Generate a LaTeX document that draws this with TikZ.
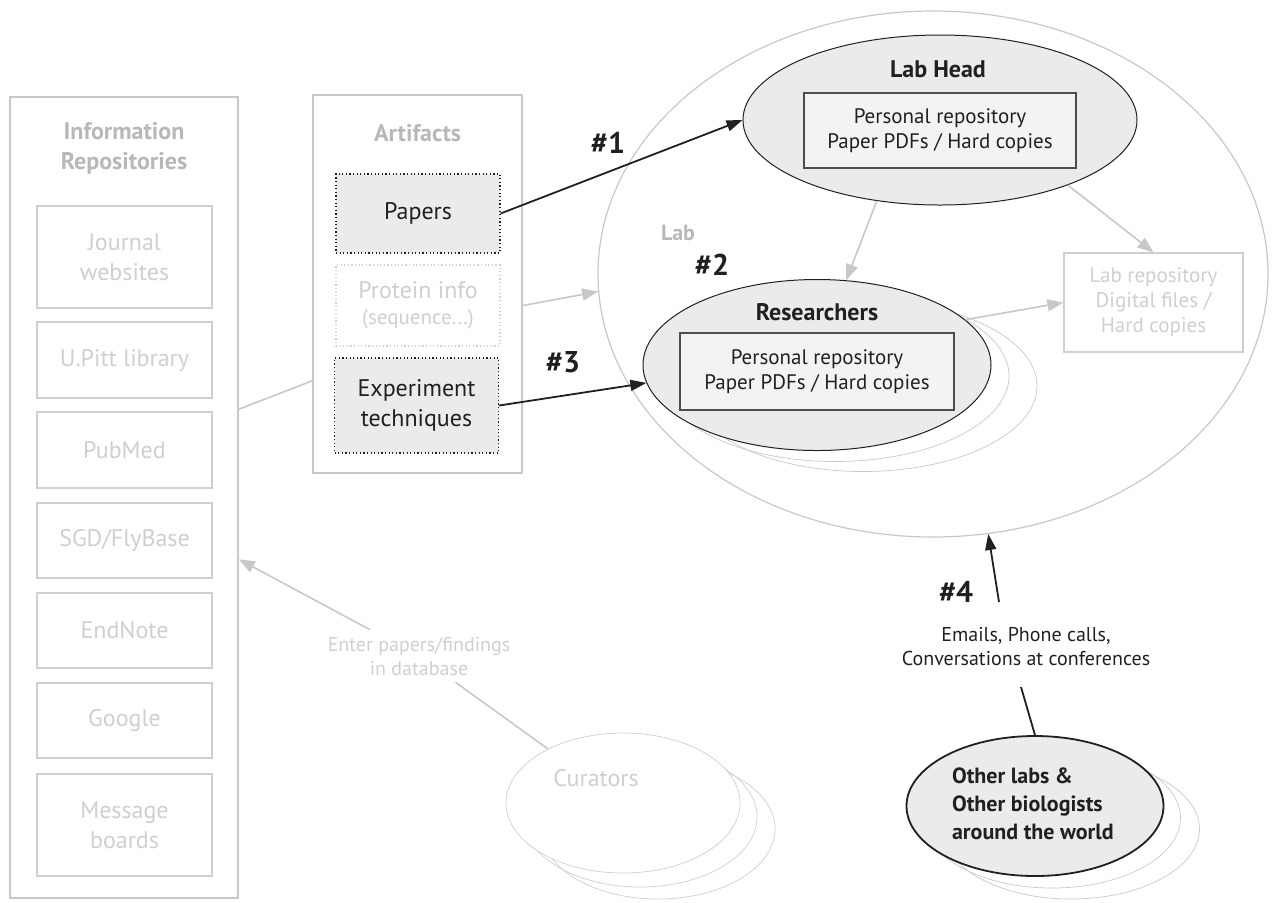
\documentclass[tikz,border=0pt]{standalone}
\usepackage{fontspec}
\setmainfont{PT Sans}
\usepackage{tikz}
\usetikzlibrary{arrows.meta,shapes.geometric,calc}

\definecolor{ink}{HTML}{231F20}
\definecolor{rule}{HTML}{C8C8C8}
\definecolor{faint}{HTML}{CFCFCF}
\definecolor{titlegray}{HTML}{B8B8B8}
\definecolor{shade}{HTML}{EBEBED}
\definecolor{paleshade}{HTML}{F3F3F5}

\begin{document}
\begin{tikzpicture}[x=0.5pt, y=-0.5pt, >={Triangle[length=8pt,width=5.5pt]}]
        \tikzset{panel/.style={draw=rule, line width=0.8pt, inner sep=0pt},
                 paneltitle/.style={text=titlegray, align=center, font=\bfseries\fontsize{12}{15}\selectfont},
                 repo/.style={draw=faint, line width=0.6pt, inner sep=0pt, minimum width=87.5pt, align=center, text=faint, font=\fontsize{12}{15}\selectfont},
                 artifact/.style={draw=ink, dash pattern=on 0.6pt off 1.2pt, line width=0.6pt, fill=shade, inner sep=0pt, minimum width=82pt, align=center, text=ink, font=\fontsize{12}{15}\selectfont},
                 member/.style={draw=ink, ellipse, line width=0.5pt, fill=shade, inner sep=0pt},
                 membertitle/.style={text=ink, font=\bfseries\fontsize{12}{14}\selectfont},
                 personal/.style={draw=ink!80, line width=0.6pt, fill=paleshade, inner sep=0pt, align=center, text=ink, font=\fontsize{10.5}{12.5}\selectfont},
                 copyring/.style={draw=rule, ellipse, line width=0.35pt, inner sep=0pt},
                 tag/.style={text=ink, font=\bfseries\fontsize{15}{18}\selectfont},
                 gline/.style={draw=rule, line width=0.8pt},
                 garrow/.style={gline, -{Triangle[length=8pt,width=6pt]}},
                 kline/.style={draw=ink, line width=0.9pt},
                 karrow/.style={kline, ->}}

        \useasboundingbox (0,0) rectangle (1274,902);

        \node[panel, minimum width=114pt, minimum height=400.5pt] (info) at (124,497.5) {};
        \node[paneltitle] (infotitle) at (124,148) {Information\\Repositories};
        \node[repo, minimum height=51pt] (journal) at (124.5,257) {Journal\\websites};
        \node[repo, minimum height=38pt] (upitt) at (124.5,360) {U.Pitt library};
        \node[repo, minimum height=38pt] (pubmed) at (124.5,450) {PubMed};
        \node[repo, minimum height=37.5pt] (sgd) at (124.5,540.5) {SGD/FlyBase};
        \node[repo, minimum height=37.5pt] (endnote) at (124.5,630.5) {EndNote};
        \node[repo, minimum height=37.5pt] (google) at (124.5,720.5) {Google};
        \node[repo, minimum height=51pt] (boards) at (124.5,825) {Message\\boards};

        \node[panel, minimum width=104.5pt, minimum height=189pt] (art) at (417.5,284) {};
        \node[paneltitle] (arttitle) at (417.5,133) {Artifacts};
        \node[artifact, minimum height=39.5pt] (papers) at (418,213.5) {Papers};
        \node[artifact, draw=faint, fill=none, text=faint, minimum height=40.5pt] (protein) at (418,305.5)
            {Protein info\\[-2pt]{\fontsize{10.5}{12}\selectfont(sequence...)}};
        \node[artifact, minimum height=47.5pt] (exper) at (416.5,405.5) {Experiment\\techniques};

        \node[copyring, minimum width=335pt, minimum height=263pt, line width=0.6pt] (lab) at (933,274) {};
        \node[paneltitle, font=\bfseries\fontsize{11}{13}\selectfont] (lablabel) at (678,233) {Lab};

        \node[member, minimum width=197pt, minimum height=85pt] (head) at (940,120) {};
        \node[membertitle] (headtitle) at (938,69) {Lab Head};
        \node[personal, minimum width=136pt, minimum height=37.5pt] (headrepo) at (940,130.5)
            {Personal repository\\Paper PDFs / Hard copies};

        \foreach \dx/\dy/\i in {46/21/2,18/11/1}
            \node[copyring, minimum width=174pt, minimum height=85.5pt] (rescopy\i) at (817+\dx,365+\dy) {};
        \node[member, minimum width=174pt, minimum height=85.5pt] (res) at (817,365) {};
        \node[membertitle] (restitle) at (817,312) {Researchers};
        \node[personal, minimum width=137pt, minimum height=38.5pt] (resrepo) at (817,371.5)
            {Personal repository\\Paper PDFs / Hard copies};

        \node[repo, minimum width=89.5pt, minimum height=49.5pt, font=\fontsize{10.5}{12.5}\selectfont] (labrepo) at (1153.5,302.5)
            {Lab repository\\Digital files /\\Hard copies};

        \foreach \dx/\dy/\i in {36/23/2,17/12/1}
            \node[copyring, minimum width=128.5pt, minimum height=70pt] (othercopy\i) at (1035+\dx,806+\dy) {};
        \node[member, line width=0.9pt, minimum width=128.5pt, minimum height=70pt] (others) at (1035,806) {};
        \node[anchor=west, align=left, text=ink, font=\bfseries\fontsize{11}{14}\selectfont] (otherstext) at (945,804)
            {Other labs \&\\Other biologists\\around the world};

        \foreach \dx/\dy/\i in {35/26/2,17/14/1}
            \node[copyring, draw=faint, minimum width=117pt, minimum height=70pt] (curcopy\i) at (623+\dx,803+\dy) {};
        \node[copyring, draw=faint, fill=white, minimum width=117pt, minimum height=70pt] (cur) at (623,803) {};
        \node[text=faint, font=\fontsize{12}{14}\selectfont] (curtext) at (596,778) {Curators};

        \node[text=faint, align=center, font=\fontsize{10}{12}\selectfont] (enter) at (419,656) {Enter papers/findings\\in database};
        \node[text=ink, align=center, font=\fontsize{10}{12}\selectfont] (emails) at (1026,647) {Emails, Phone calls,\\Conversations at conferences};

        \node[tag] (t1) at (608,143) {\#1};
        \node[tag] (t2) at (712,265) {\#2};
        \node[tag] (t3) at (563,362) {\#3};
        \node[tag] (t4) at (956,592) {\#4};

        \coordinate (infoout) at ($(info.north east)!0.39!(info.south east)$);
        \coordinate (infoin) at ($(info.north east)!0.577!(info.south east)$);
        \coordinate (artin) at ($(art.north west)!0.755!(art.south west)$);
        \coordinate (mail1) at (1021,687);
        \coordinate (mail2) at (999,602);

        \draw[gline] (infoout) -- (artin);
        \draw[garrow] (protein.east -| art.east) -- (lab.183);
        \draw[karrow] (papers.east) -- (head.west);
        \draw[karrow] (exper.east) -- (res.186);
        \draw[garrow] (head.-128) -- (res.71);
        \draw[garrow] (head.-27) -- (labrepo.north);
        \draw[garrow] (res.17) -- (labrepo.west);
        \draw[kline] (others.north) -- (mail1);
        \draw[karrow] (mail2) -- (lab.-78);
        \draw[gline] (cur) -- (enter);
        \draw[garrow] (enter) -- (infoin);
\end{tikzpicture}
\end{document}
